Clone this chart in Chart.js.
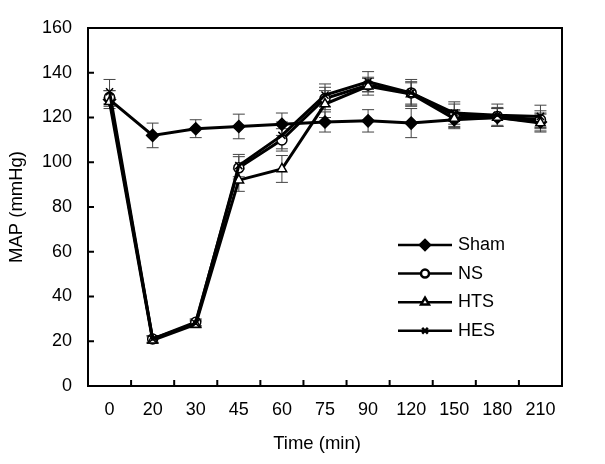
<!DOCTYPE html>
<html>
<head>
<meta charset="utf-8">
<script src="https://cdn.jsdelivr.net/npm/chart.js@4"></script>
<style>
  body { margin: 0; background: #fff; }
  canvas { display: block; }
</style>
</head>
<body>
<canvas id="myChart" width="605" height="464"></canvas>
<script>
// time points (min)
const times = ['0', '20', '30', '45', '60', '75', '90', '120', '150', '180', '210'];

// MAP means per group
const sham = [128, 112, 115, 116, 117, 118, 118.5, 117.5, 119, 120, 118];
const ns = [129, 21, 28.5, 97.5, 110, 128.5, 134.5, 131, 121, 120.5, 119];
const hts = [127, 20.5, 27.5, 92, 97, 126, 134, 130.5, 119.5, 120, 117.5];
const hes = [131.5, 21, 28, 98.5, 112, 130, 136, 131, 122, 121, 120.5];

// error bar half-lengths
const shamErr = [4, 5.5, 4, 5.5, 5, 4.5, 5, 6.5, 4, 4, 4];
const nsErr = [3, 1.5, 1.5, 5, 5, 5, 3, 5, 5, 4, 4];
const htsErr = [2, 1.5, 1.5, 5, 6, 6, 4, 5, 4, 4, 4];
const hesErr = [5.5, 1.5, 1.5, 5, 6, 5, 4.5, 6, 5, 5, 5];

const yTicks = [0, 20, 40, 60, 80, 100, 120, 140, 160];

const family = 'Arial, "Liberation Sans", sans-serif';
const font = { family, size: 18 };

function series(label, data, errs, style, fill, radius, order) {
  return {
    label, data, errs,
    borderColor: '#000',
    borderWidth: 3,
    pointStyle: style,
    pointRadius: radius,
    pointHoverRadius: radius,
    pointBackgroundColor: fill,
    pointBorderColor: '#000',
    pointBorderWidth: 1.5,
    tension: 0,
    order
  };
}

const datasets = [
  series('Sham', sham, shamErr, 'rectRot', '#000', 6, 4),
  series('NS', ns, nsErr, 'circle', '#fff', 5, 3),
  series('HTS', hts, htsErr, 'triangle', '#fff', 5.5, 2),
  series('HES', hes, hesErr, 'crossRot', '#fff', 5, 1)
];

// error bars, frame, inward ticks, legend, x title
const decor = {
  id: 'decor',
  beforeDatasetsDraw(chart) {
    const ctx = chart.ctx;
    const y = chart.scales.y;
    ctx.save();
    ctx.strokeStyle = '#444';
    ctx.lineWidth = 1;
    chart.data.datasets.forEach((ds, di) => {
      const meta = chart.getDatasetMeta(di);
      meta.data.forEach((pt, i) => {
        const e = ds.errs[i];
        const top = y.getPixelForValue(ds.data[i] + e);
        const bot = y.getPixelForValue(ds.data[i] - e);
        ctx.beginPath();
        ctx.moveTo(pt.x, top); ctx.lineTo(pt.x, bot);
        ctx.moveTo(pt.x - 6, top); ctx.lineTo(pt.x + 6, top);
        ctx.moveTo(pt.x - 6, bot); ctx.lineTo(pt.x + 6, bot);
        ctx.stroke();
      });
    });
    ctx.restore();
  },
  afterDraw(chart) {
    const ctx = chart.ctx;
    const a = chart.chartArea;
    const y = chart.scales.y;
    ctx.save();
    ctx.strokeStyle = '#000';
    ctx.lineWidth = 2;
    ctx.strokeRect(a.left, a.top, a.right - a.left, a.bottom - a.top);
    ctx.beginPath();
    const step = (a.right - a.left) / times.length;
    for (let i = 1; i < times.length; i++) {
      const x = a.left + i * step;
      ctx.moveTo(x, a.bottom); ctx.lineTo(x, a.bottom - 6);
    }
    yTicks.forEach(v => {
      const py = y.getPixelForValue(v);
      ctx.moveTo(a.left, py); ctx.lineTo(a.left + 6, py);
    });
    ctx.stroke();

    // x axis title
    ctx.fillStyle = '#000';
    ctx.font = '18.5px ' + family;
    ctx.textAlign = 'center';
    ctx.textBaseline = 'middle';
    ctx.fillText('Time (min)', 317, 444);

    // legend
    const lx = 398, tx = 458;
    let ly = 245;
    ctx.font = '18px ' + family;
    ctx.textAlign = 'left';
    chart.data.datasets.forEach(ds => {
      ctx.lineWidth = 2.5;
      ctx.beginPath();
      ctx.moveTo(lx, ly); ctx.lineTo(lx + 54, ly);
      ctx.stroke();
      ctx.fillStyle = ds.pointBackgroundColor;
      Chart.helpers.drawPoint(ctx, {
        pointStyle: ds.pointStyle,
        radius: ds.pointRadius - 1,
        borderWidth: ds.pointStyle === 'crossRot' ? 2 : 1.5,
        rotation: 0
      }, lx + 27, ly);
      ctx.fillStyle = '#000';
      ctx.fillText(ds.label, tx, ly);
      ly += 28.6;
    });
    ctx.restore();
  }
};

new Chart(document.getElementById('myChart'), {
  type: 'line',
  data: { labels: times, datasets },
  options: {
    responsive: false,
    animation: false,
    layout: { padding: { left: 2, right: 43, top: 28, bottom: 12 } },
    plugins: { legend: { display: false }, tooltip: { enabled: false } },
    scales: {
      x: {
        offset: true,
        grid: { display: false, drawTicks: false },
        border: { display: false },
        ticks: { color: '#000', font, padding: 13, maxRotation: 0, autoSkip: false },
        afterFit(s) { s.height = 464 - 386 - 12; }
      },
      y: {
        min: 0, max: 160,
        grid: { display: false, drawTicks: false },
        border: { display: false },
        ticks: { stepSize: 20, color: '#000', font, padding: 16 },
        title: { display: true, text: 'MAP (mmHg)', color: '#000', font: { family, size: 18.5 }, padding: { top: 4, bottom: 0 } },
        afterFit(s) { s.width = 88 - 2; }
      }
    }
  },
  plugins: [decor]
});
</script>
</body>
</html>
